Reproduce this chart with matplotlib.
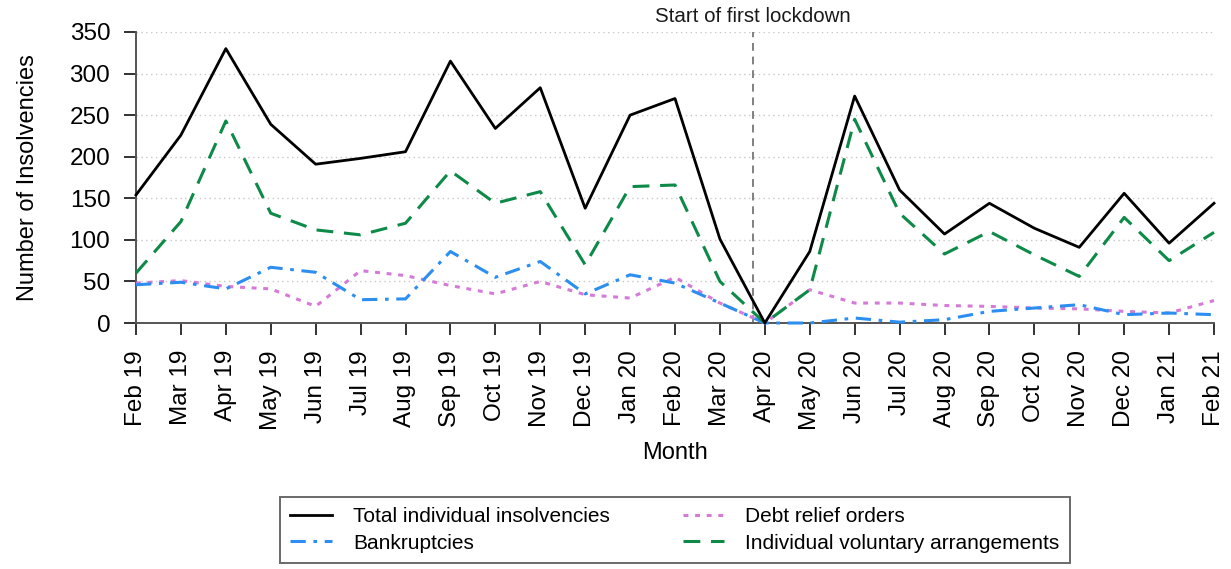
import matplotlib
matplotlib.use("Agg")
import matplotlib.pyplot as plt
from matplotlib.transforms import blended_transform_factory

months = ["Feb 19", "Mar 19", "Apr 19", "May 19", "Jun 19", "Jul 19", "Aug 19",
          "Sep 19", "Oct 19", "Nov 19", "Dec 19", "Jan 20", "Feb 20", "Mar 20",
          "Apr 20", "May 20", "Jun 20", "Jul 20", "Aug 20", "Sep 20", "Oct 20",
          "Nov 20", "Dec 20", "Jan 21", "Feb 21"]

total = [154, 226, 330, 239, 191, 198, 206, 315, 234, 283, 138, 250, 270, 101,
         0, 86, 273, 160, 107, 144, 114, 91, 156, 96, 144]
bankruptcies = [46, 49, 41, 67, 61, 28, 29, 86, 55, 74, 35, 58, 48, 24,
                0, 0, 6, 1, 4, 14, 18, 22, 10, 12, 10]
dro = [48, 51, 44, 41, 20, 63, 57, 45, 35, 50, 34, 30, 55, 24,
       0, 40, 24, 24, 21, 20, 18, 17, 14, 12, 27]
iva = [60, 122, 243, 132, 112, 106, 120, 183, 144, 158, 70, 164, 166, 50,
       0, 40, 245, 132, 83, 110, 82, 56, 127, 75, 109]

lockdown_pos = 13.74
yticks = [0, 50, 100, 150, 200, 250, 300, 350]

plt.rcParams['font.family'] = ['Liberation Sans', 'DejaVu Sans']

W, H = 1231, 569
fig = plt.figure(figsize=(W / 100, H / 100), dpi=100)
left, right, bottom_px, top_px = 136, 1214, 323, 32
ax = fig.add_axes([left / W, 1 - bottom_px / H, (right - left) / W, (bottom_px - top_px) / H])

x = list(range(len(months)))

for yv in yticks[1:]:
    ax.axhline(yv, color='#c8c8c8', lw=1.0, ls=(0, (1, 2.5)), zorder=0)

ax.axvline(lockdown_pos, ymin=0, ymax=1, color='#808080', lw=1.4, ls=(0, (4, 3)), zorder=1)
trans = blended_transform_factory(ax.transData, ax.transAxes)
ax.text(lockdown_pos, 1.053, "Start of first lockdown", transform=trans,
        ha='center', va='center', fontsize=14.8, color='#1a1a1a')

l1, = ax.plot(x, total, color='black', lw=2.0, ls='-', clip_on=False, zorder=5,
              label='Total individual insolvencies')
l2, = ax.plot(x, bankruptcies, color='#2b8ef0', lw=2.2, ls=(0, (5, 2.5, 1.2, 2.5)),
              clip_on=False, zorder=4, label='Bankruptcies')
l3, = ax.plot(x, dro, color='#d57ad6', lw=2.2, ls=(0, (1.6, 2.2)), clip_on=False,
              zorder=3, label='Debt relief orders')
l4, = ax.plot(x, iva, color='#0e8a48', lw=2.2, ls=(0, (5.5, 3.5)), clip_on=False,
              zorder=4, label='Individual voluntary arrangements')

ax.set_xlim(0, len(months) - 1)
ax.set_ylim(0, 350)
ax.set_xticks(x)
ax.set_xticklabels(months, rotation=90, fontsize=17.5)
ax.set_yticks(yticks)
ax.set_yticklabels([str(v) for v in yticks], fontsize=17.5)
for s in ['top', 'right']:
    ax.spines[s].set_visible(False)
for s in ['left', 'bottom']:
    ax.spines[s].set_color('#555555')
    ax.spines[s].set_linewidth(1.4)
ax.tick_params(axis='both', length=8.5, width=1.4, color='#333333')
ax.tick_params(axis='y', pad=10)
ax.tick_params(axis='x', pad=11)
ax.set_xlabel("Month", fontsize=17, labelpad=9)
ax.set_ylabel("Number of Insolvencies", fontsize=17, labelpad=22)

leg = fig.legend(handles=[l1, l2, l3, l4], loc='lower center',
                 bbox_to_anchor=(675 / W, 6 / H), ncol=2, fontsize=15,
                 frameon=True, fancybox=False, edgecolor='#444444',
                 handlelength=2.0, handletextpad=1.0, columnspacing=3.5,
                 labelspacing=0.34, borderpad=0.5, borderaxespad=0)
leg.get_frame().set_linewidth(1.4)

fig.savefig("out.png", dpi=100)
